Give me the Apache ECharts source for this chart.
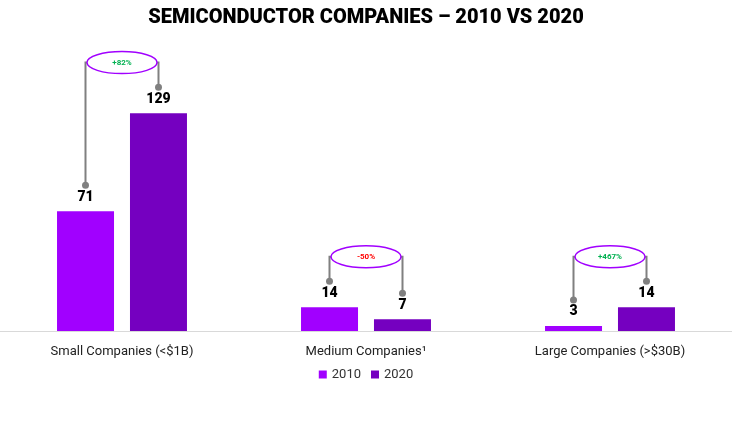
<!doctype html>
<html>
<head>
<meta charset="UTF-8">
<style>html,body{margin:0;background:#fff}#main{width:732px;height:432px}</style>
</head>
<body>
<div id="main"></div>
<script src="https://cdn.jsdelivr.net/npm/echarts@6/dist/echarts.min.js"></script>
<script>
var categories = ['Small Companies (<$1B)', 'Medium Companies\u00b9', 'Large Companies (>$30B)'];
var v2010 = [71, 14, 3];
var v2020 = [129, 7, 14];
var changes = ['+82%', '-50%', '+467%'];
var changeColors = ['#00b050', '#ff0000', '#00b050'];
var bracketTop = [159, 44, 44];

var chart = echarts.init(document.getElementById('main'));
var barW = 57, gap = 16;

function renderBracket(params, api) {
    var i = api.value(0);
    var c = api.coord([i, 0]);
    var xl = c[0] - (barW + gap) / 2, xr = c[0] + (barW + gap) / 2;
    var yl = api.coord([i, v2010[i]])[1] - 26;
    var yr = api.coord([i, v2020[i]])[1] - 26;
    var yt = api.coord([i, bracketTop[i]])[1];
    var line = {stroke: '#808080', lineWidth: 2, fill: 'none'};
    return {
        type: 'group',
        children: [
            {type: 'polyline', shape: {points: [[xl, yl], [xl, yt], [xr, yt], [xr, yr]]}, style: line},
            {type: 'circle', shape: {cx: xl, cy: yl, r: 3.5}, style: {fill: '#808080'}},
            {type: 'circle', shape: {cx: xr, cy: yr, r: 3.5}, style: {fill: '#808080'}},
            {type: 'ellipse', shape: {cx: c[0], cy: yt, rx: 35, ry: 11},
                style: {fill: '#fff', stroke: '#a100ff', lineWidth: 1.5}},
            {type: 'text', x: c[0], y: yt, style: {text: changes[i], fill: changeColors[i],
                font: 'bold 8px Roboto', align: 'center', verticalAlign: 'middle'}}
        ]
    };
}

var lbl = {show: true, position: 'top', distance: 7, color: '#000', fontWeight: 900, fontSize: 14, fontFamily: 'Roboto'};

chart.setOption({
    animation: false,
    title: {text: 'SEMICONDUCTOR COMPANIES \u2013 2010 VS 2020', left: 'center', top: 3,
        textStyle: {fontSize: 20, fontWeight: 900, color: '#000', fontFamily: 'Roboto'}},
    legend: {bottom: 46, itemWidth: 8, itemHeight: 8, itemGap: 10, icon: 'rect',
        textStyle: {fontSize: 13, color: '#333', fontFamily: 'Roboto'}},
    grid: {left: 0, right: 0, top: 44, bottom: 101},
    xAxis: {type: 'category', data: categories,
        axisLine: {lineStyle: {color: '#d9d9d9'}}, axisTick: {show: false},
        axisLabel: {color: '#222', fontSize: 13, margin: 14, fontFamily: 'Roboto'}},
    yAxis: {type: 'value', min: 0, max: 170, show: false, splitLine: {show: false}},
    series: [
        {name: '2010', type: 'bar', data: v2010, barWidth: barW, barGap: '28%', itemStyle: {color: '#a100ff'}, label: lbl},
        {name: '2020', type: 'bar', data: v2020, barWidth: barW, itemStyle: {color: '#7500c0'}, label: lbl},
        {type: 'custom', data: [[0], [1], [2]], renderItem: renderBracket, z: 5, silent: true}
    ]
});
</script>
</body>
</html>
